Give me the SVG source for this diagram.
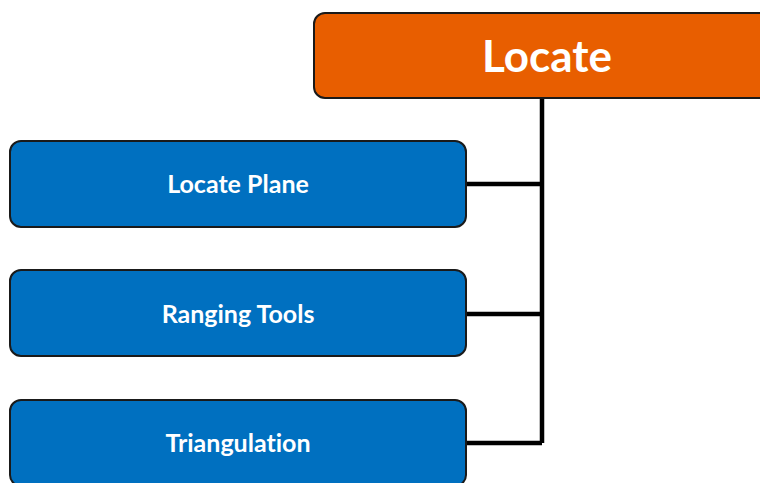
<svg xmlns="http://www.w3.org/2000/svg" width="760" height="483" viewBox="0 0 760 483">
<style>
.box{stroke:#1a1a1a;stroke-width:2}
.blue{fill:#0070C0}
.orange{fill:#E85E00}
.t{fill:#fff;font-family:Lato,"Open Sans","Liberation Sans",sans-serif;font-weight:bold;text-anchor:middle;font-variant-ligatures:none}
.conn{stroke:#000;stroke-width:4.5;fill:none}
</style>
<rect width="760" height="483" fill="#fff"/>
<g id="connectors">
<path class="conn" d="M542 98 V443 M466 184 H542 M466 314 H542 M466 443 H542"/>
</g>
<g id="locate">
<rect class="box orange" x="314" y="13" width="470" height="85" rx="11"/>
<text class="t" x="547" y="72" font-size="44">Locate</text>
</g>
<g id="locate-plane">
<rect class="box blue" x="10" y="141" width="456" height="86" rx="11"/>
<text class="t" x="238" y="193" font-size="25">Locate Plane</text>
</g>
<g id="ranging-tools">
<rect class="box blue" x="10" y="270" width="456" height="86" rx="11"/>
<text class="t" x="238" y="323" font-size="25">Ranging Tools</text>
</g>
<g id="triangulation">
<rect class="box blue" x="10" y="400" width="456" height="86" rx="11"/>
<text class="t" x="238" y="452" font-size="25">Triangulation</text>
</g>
</svg>
